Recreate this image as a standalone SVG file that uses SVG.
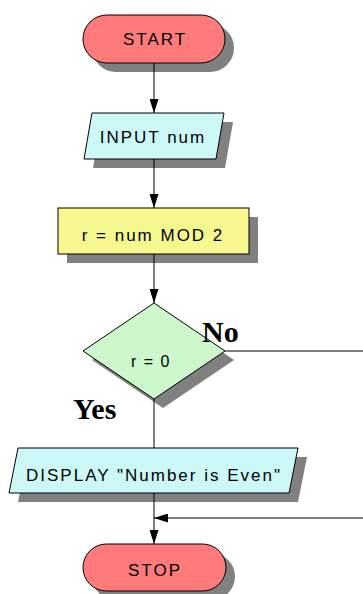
<svg xmlns="http://www.w3.org/2000/svg" width="363" height="594" viewBox="0 0 363 594">
<style>
.shadow{fill:#808080;stroke:none}
.term{fill:#ff7b7b;stroke:#000;stroke-width:1}
.io{fill:#ccf8f8;stroke:#000;stroke-width:1}
.proc{fill:#f8f890;stroke:#000;stroke-width:1}
.dec{fill:#ccf8cc;stroke:#000;stroke-width:1}
.lbl{font-family:"Liberation Sans",Arial,sans-serif;font-size:17px;fill:#000;text-anchor:middle;letter-spacing:2px}
.big{font-family:"Liberation Serif","Times New Roman",serif;font-size:30px;font-weight:bold;fill:#000}
.conn{stroke:#000;stroke-width:1;fill:none}
</style>
<defs>
<marker id="ah" markerUnits="userSpaceOnUse" markerWidth="14" markerHeight="9" refX="14" refY="4.5" orient="auto">
<path d="M0,0 L14,4.5 L0,9 z" fill="#000"/>
</marker>
</defs>
<rect width="363" height="594" fill="#fff"/>
<g id="start">
<rect class="shadow" x="92" y="24" width="142" height="48" rx="24"/>
<rect class="term" x="83" y="15" width="142" height="48" rx="24"/>
<text class="lbl" x="155" y="45">START</text>
</g>
<g id="input">
<polygon class="shadow" points="101,122 233,122 225,168 93,168"/>
<polygon class="io" points="92,113 224,113 216,159 84,159"/>
<text class="lbl" x="153" y="143">INPUT num</text>
</g>
<g id="process">
<rect class="shadow" x="67" y="217" width="191" height="46"/>
<rect class="proc" x="58" y="208" width="191" height="46"/>
<text class="lbl" x="153" y="241">r = num MOD 2</text>
</g>
<g id="decision">
<polygon class="shadow" points="163,312 234,360 163,408 92,360"/>
<polygon class="dec" points="154,303 225,351 154,399 83,351"/>
<text class="lbl" x="151" y="367" style="font-size:16px;letter-spacing:1.5px">r = 0</text>
</g>
<g id="display">
<polygon class="shadow" points="27,457 307,457 298,502 18,502"/>
<polygon class="io" points="18,448 298,448 289,493 9,493"/>
<text class="lbl" x="154" y="481">DISPLAY "Number is Even"</text>
</g>
<g id="stop">
<rect class="shadow" x="92" y="553" width="143" height="47" rx="23.5"/>
<rect class="term" x="83" y="544" width="143" height="47" rx="23.5"/>
<text class="lbl" x="155" y="576">STOP</text>
</g>
<g id="connectors">
<line class="conn" x1="154" y1="63" x2="154" y2="113" marker-end="url(#ah)"/>
<line class="conn" x1="154" y1="159" x2="154" y2="208" marker-end="url(#ah)"/>
<line class="conn" x1="154" y1="254" x2="154" y2="303" marker-end="url(#ah)"/>
<line class="conn" x1="154" y1="399" x2="154" y2="448"/>
<line class="conn" x1="225" y1="351" x2="363" y2="351"/>
<line class="conn" x1="154" y1="493" x2="154" y2="544" marker-end="url(#ah)"/>
<line class="conn" x1="363" y1="518" x2="154" y2="518" marker-end="url(#ah)"/>
<text class="big" x="202" y="342">No</text>
<text class="big" x="73" y="419">Yes</text>
</g>
</svg>
